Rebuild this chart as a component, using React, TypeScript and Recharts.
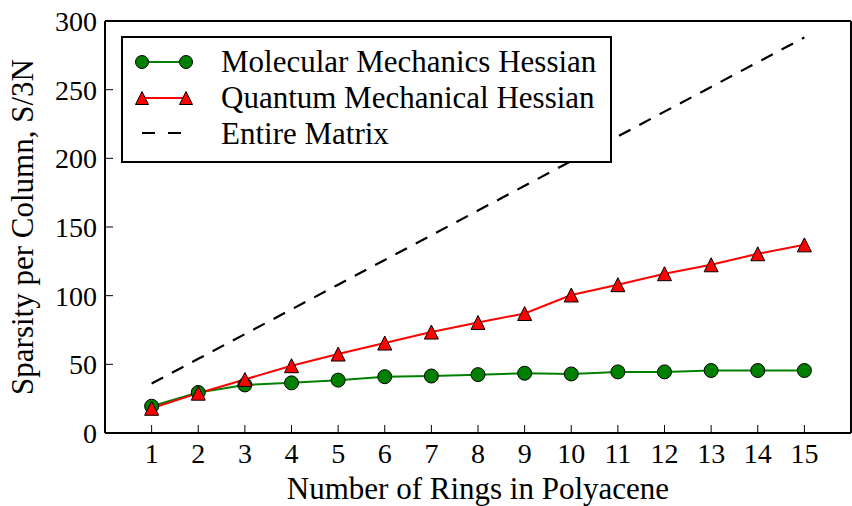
import React from 'react'
import { LineChart, Line, XAxis, YAxis, Legend } from 'recharts'

// number of rings in the polyacene
const rings = [1, 2, 3, 4, 5, 6, 7, 8, 9, 10, 11, 12, 13, 14, 15]
// sparsity per column S/3N
const mmHessian = [19.5, 29.5, 35, 36.5, 38.5, 41, 41.5, 42.5, 43.5, 43, 44.5, 44.5, 45.5, 45.5, 45.5]
const qmHessian = [18, 29, 39, 49, 57.5, 65.5, 73.5, 80.5, 87, 100.5, 108, 116, 122.5, 130.5, 137]
const entireMatrix = [36, 54, 72, 90, 108, 126, 144, 162, 180, 198, 216, 234, 252, 270, 288]
const yTicks = [0, 50, 100, 150, 200, 250, 300]

const FONT = "'Liberation Serif', 'DejaVu Serif', serif"
const GREEN = '#008000'
const RED = '#ff0000'

const chartData = rings.map((n, i) => ({
  n,
  mm: mmHessian[i],
  qm: qmHessian[i],
  full: entireMatrix[i],
}))

const Circle = (props: any) => {
  const { cx, cy, index } = props
  if (cx == null || cy == null) return null
  return <circle key={`c-${index}`} cx={cx} cy={cy} r={7} fill={GREEN} stroke="#000" strokeWidth={1} />
}

const Triangle = (props: any) => {
  const { cx, cy, index } = props
  if (cx == null || cy == null) return null
  return (
    <polygon
      key={`t-${index}`}
      points={`${cx},${cy - 7} ${cx - 7},${cy + 7} ${cx + 7},${cy + 7}`}
      fill={RED}
      stroke="#000"
      strokeWidth={1}
    />
  )
}

const renderLegend = () => (
  <svg width={491} height={127} style={{ display: 'block' }}>
    <rect x={1} y={1} width={489} height={125} fill="#fff" stroke="#000" strokeWidth={2} />
    <line x1={21} y1={26} x2={65} y2={26} stroke={GREEN} strokeWidth={2} />
    <circle cx={21} cy={26} r={6.5} fill={GREEN} stroke="#000" strokeWidth={1} />
    <circle cx={65} cy={26} r={6.5} fill={GREEN} stroke="#000" strokeWidth={1} />
    <text x={100} y={36} fontSize={31} fontFamily={FONT} fill="#000">
      Molecular Mechanics Hessian
    </text>
    <line x1={21} y1={62} x2={65} y2={62} stroke={RED} strokeWidth={2} />
    <polygon points="21,55.5 14.5,68.5 27.5,68.5" fill={RED} stroke="#000" strokeWidth={1} />
    <polygon points="65,55.5 58.5,68.5 71.5,68.5" fill={RED} stroke="#000" strokeWidth={1} />
    <text x={100} y={72} fontSize={31} fontFamily={FONT} fill="#000">
      Quantum Mechanical Hessian
    </text>
    <line x1={21} y1={97} x2={63} y2={97} stroke="#000" strokeWidth={2.2} strokeDasharray="13 13" />
    <text x={100} y={108} fontSize={31} fontFamily={FONT} fill="#000">
      Entire Matrix
    </text>
  </svg>
)

const xLabel = (props: any) => {
  const { viewBox } = props
  return (
    <text
      x={viewBox.x + viewBox.width / 2}
      y={viewBox.y + 66}
      textAnchor="middle"
      fontSize={31}
      fontFamily={FONT}
      fill="#000"
    >
      Number of Rings in Polyacene
    </text>
  )
}

const yLabel = (props: any) => {
  const { viewBox } = props
  const x = viewBox.x + 33
  const y = viewBox.y + viewBox.height / 2
  return (
    <text
      x={x}
      y={y}
      transform={`rotate(-90, ${x}, ${y})`}
      textAnchor="middle"
      fontSize={31}
      fontFamily={FONT}
      fill="#000"
    >
      Sparsity per Column, S/3N
    </text>
  )
}

const axisLine = { stroke: '#000', strokeWidth: 2 }
const tickLine = { stroke: '#000', strokeWidth: 1 }
const tickStyle = { fill: '#000', fontSize: 28, fontFamily: FONT }

export default function App() {
  return (
    <div style={{ position: 'absolute', left: 0, top: 0, width: 852, height: 506, background: '#fff' }}>
      <LineChart
        width={852}
        height={506}
        data={chartData}
        margin={{ top: 20, right: 0, bottom: 0, left: 0 }}
      >
        <XAxis
          dataKey="n"
          type="number"
          domain={[0, 16]}
          ticks={rings}
          interval={0}
          height={73}
          tickSize={-8}
          tickMargin={18}
          axisLine={axisLine}
          tickLine={tickLine}
          tick={tickStyle}
          label={xLabel}
        />
        <XAxis
          xAxisId="top"
          orientation="top"
          type="number"
          domain={[0, 16]}
          ticks={rings}
          interval={0}
          height={1}
          tickSize={-8}
          axisLine={axisLine}
          tickLine={tickLine}
          tick={false}
        />
        <YAxis
          type="number"
          domain={[0, 300]}
          ticks={yTicks}
          interval={0}
          width={105}
          tickSize={-8}
          tickMargin={16}
          axisLine={axisLine}
          tickLine={tickLine}
          tick={tickStyle}
          label={yLabel}
        />
        <YAxis
          yAxisId="right"
          orientation="right"
          type="number"
          domain={[0, 300]}
          ticks={yTicks}
          interval={0}
          width={1}
          tickSize={-8}
          axisLine={axisLine}
          tickLine={tickLine}
          tick={false}
        />
        <Legend
          layout="vertical"
          align="center"
          verticalAlign="middle"
          content={renderLegend}
          wrapperStyle={{ left: 121, top: 36, width: 491, height: 127 }}
        />
        <Line
          dataKey="full"
          stroke="#000"
          strokeWidth={2.2}
          strokeDasharray="13 10"
          dot={false}
          isAnimationActive={false}
        />
        <Line
          dataKey="mm"
          stroke={GREEN}
          strokeWidth={2}
          dot={Circle}
          isAnimationActive={false}
        />
        <Line
          dataKey="qm"
          stroke={RED}
          strokeWidth={2}
          dot={Triangle}
          isAnimationActive={false}
        />
      </LineChart>
    </div>
  )
}
